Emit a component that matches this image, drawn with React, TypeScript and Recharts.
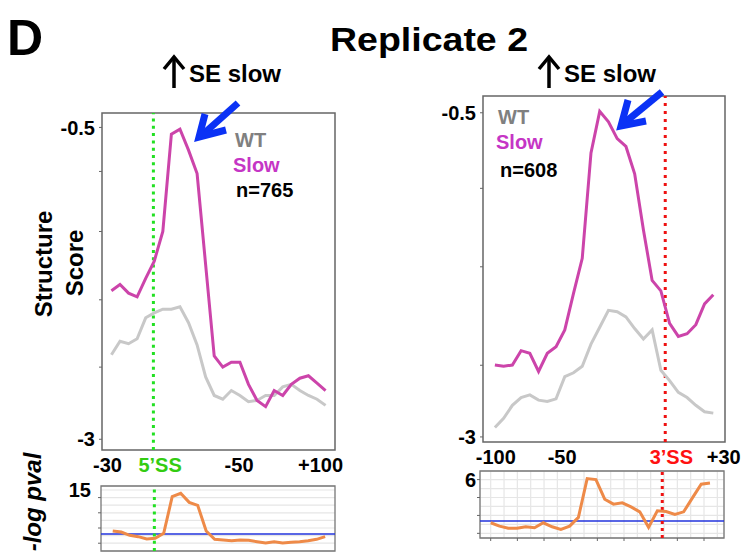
import { CartesianGrid, Line, LineChart, ReferenceArea, ReferenceLine, XAxis, YAxis } from 'recharts';

// 5'SS panel (left)
const leftPos = [-30, -25, -20, -15, -10, -5, 0, 5, 10, 15, 20, 25, 30, 35, 40, 45, 50, 55, 60, 65, 70, 75, 80, 85, 90, 95];
const leftWT = [-2.35, -2.24, -2.26, -2.22, -2.05, -2.01, -1.98, -1.98, -1.96, -2.09, -2.27, -2.53, -2.68, -2.71, -2.64, -2.68, -2.73, -2.72, -2.68, -2.68, -2.61, -2.59, -2.64, -2.68, -2.71, -2.76];
const leftSlow = [-1.83, -1.78, -1.85, -1.88, -1.73, -1.59, -1.35, -0.56, -0.52, -0.69, -0.88, -1.62, -2.36, -2.45, -2.41, -2.41, -2.59, -2.72, -2.77, -2.64, -2.68, -2.59, -2.54, -2.52, -2.58, -2.64];
const leftPval = [4.21, 3.95, 3.07, 2.72, 2.11, 2.28, 3.6, 13.24, 14.12, 11.75, 10.96, 4.21, 2.02, 1.84, 1.66, 1.84, 1.75, 1.4, 1.05, 1.4, 1.05, 1.23, 1.4, 1.66, 2.02, 2.72];

// 3'SS panel (right)
const rightPos = [-100, -95, -90, -85, -80, -75, -70, -65, -60, -55, -50, -45, -40, -35, -30, -25, -20, -15, -10, -5, 0, 5, 10, 15, 20, 25];
const rightWT = [-2.94, -2.87, -2.77, -2.71, -2.69, -2.73, -2.74, -2.72, -2.55, -2.52, -2.47, -2.3, -2.17, -2.04, -2.05, -2.09, -2.18, -2.26, -2.19, -2.5, -2.58, -2.67, -2.71, -2.77, -2.82, -2.83];
const rightSlow = [-2.46, -2.47, -2.46, -2.35, -2.37, -2.51, -2.37, -2.32, -2.19, -1.91, -1.64, -0.83, -0.51, -0.59, -0.72, -0.78, -0.99, -1.42, -1.81, -1.89, -2.14, -2.24, -2.22, -2.15, -1.99, -1.92];
const rightPval = [1.18, 0.81, 0.56, 0.56, 0.73, 0.62, 1.18, 0.73, 0.44, 0.81, 1.78, 6.11, 6.0, 3.81, 3.26, 3.4, 2.96, 2.4, 0.67, 2.51, 2.44, 2.11, 2.4, 3.96, 5.48, 5.62];

// axis ticks and labels
const leftXTicks = [-32.3, -1.6, 44.5, 92.1];
const leftXLabels = ['-30', '5\u2019SS', '-50', '+100'];
const leftXColors = ['#000', '#33cc11', '#000', '#000'];
const rightXTicks = [-99.5, -61.5, 1, 31];
const rightXLabels = ['-100', '-50', '3\u2019SS', '+30'];
const rightXColors = ['#000', '#000', '#ff1111', '#000'];

const leftYTicks = [-0.506, -0.863, -1.35, -1.904, -2.45, -3.035];
const leftYLabels = ['-0.5', '', '', '', '', '-3'];
const rightYTicks = [-0.521, -1.102, -1.705, -2.462, -3.013];
const rightYLabels = ['-0.5', '', '', '', '-3'];

const pvalLTicks = [1, 3, 5, 7, 9, 11, 13, 15];
const pvalLLabels = ['', '', '', '', '', '', '', '15'];
const pvalLMarks = [true, false, true, false, true, false, true, false];
const pvalRTicks = [0, 1, 2, 3, 4, 5, 6];
const pvalRLabels = ['', '', '', '', '', '', '6'];
const pvalRMarks = [true, false, true, false, true, false, true];
const pvalRXGrid = [-100, -92.4, -84.8, -77.2, -69.6, -62, -54.4, -46.8, -39.2, -31.6, -24, -16.4, -8.8, -1.2, 6.4, 14, 21.6, 29.2];

const pvalCutoffL = 3.4;
const pvalCutoffR = 1.37;

const leftData = leftPos.map((p, i) => ({ pos: p, wt: leftWT[i], slow: leftSlow[i], pval: leftPval[i] }));
const rightData = rightPos.map((p, i) => ({ pos: p, wt: rightWT[i], slow: rightSlow[i], pval: rightPval[i] }));

const FONT = '"Liberation Sans", Arial, Helvetica, sans-serif';

const yTick = (values: number[], labels: string[], marks: boolean[] | null, gap: number) => (props: any) => {
  const { x, y, payload } = props;
  const k = values.indexOf(payload.value);
  const mark = marks ? marks[k] : true;
  return (
    <g>
      {mark && <line x1={x - 3} x2={x} y1={y} y2={y} stroke="#666" strokeWidth={1} />}
      {labels[k] ? (
        <text x={x - gap} y={y} dy="0.36em" textAnchor="end" fontFamily={FONT} fontWeight="bold" fontSize={20} fill="#000">
          {labels[k]}
        </text>
      ) : null}
    </g>
  );
};

const xTick = (values: number[], labels: string[], colors: string[]) => (props: any) => {
  const { x, y, payload } = props;
  const k = values.indexOf(payload.value);
  return (
    <text x={x} y={y + 22} textAnchor="middle" fontFamily={FONT} fontWeight="bold" fontSize={20} fill={colors[k]}>
      {labels[k]}
    </text>
  );
};

const gridXTick = (props: any) => {
  const { x, y, index } = props;
  if (index % 2 !== 0) return <g />;
  return <line x1={x} x2={x} y1={y} y2={y + 3} stroke="#666" strokeWidth={1} />;
};

const LEFT_X: [number, number] = [-35.5, 100.5];
const LEFT_Y: [number, number] = [-3.122, -0.389];
const RIGHT_X: [number, number] = [-106.8, 31.7];
const RIGHT_Y: [number, number] = [-3.052, -0.392];
const PL_X: [number, number] = [-36.9, 100.8];
const PL_Y: [number, number] = [-1.05, 16.05];
const PR_X: [number, number] = [-106.1, 33];
const PR_Y: [number, number] = [-0.52, 6.96];

const App = () => {
  return (
    <div style={{ position: 'absolute', left: 0, top: 0, width: 746, height: 554, background: '#fff', overflow: 'hidden' }}>
      {/* left main */}
      <div style={{ position: 'absolute', left: 0, top: 100 }}>
        <LineChart width={350} height={385} data={leftData} margin={{ top: 13, right: 15, bottom: 0, left: 0 }}>
          <XAxis type="number" dataKey="pos" domain={LEFT_X} allowDataOverflow ticks={leftXTicks} interval={0}
            axisLine={false} tickLine={false} tickSize={0} tickMargin={0} height={35}
            tick={xTick(leftXTicks, leftXLabels, leftXColors)} />
          <YAxis type="number" domain={LEFT_Y} allowDataOverflow ticks={leftYTicks} interval={0} width={102}
            axisLine={false} tickLine={false} tickSize={0} tickMargin={0}
            tick={yTick(leftYTicks, leftYLabels, null, 7)} />
          <ReferenceArea x1={LEFT_X[0]} x2={LEFT_X[1]} y1={LEFT_Y[0]} y2={LEFT_Y[1]} fill="none" stroke="#666" strokeWidth={1.5} ifOverflow="visible" />
          <ReferenceLine x={-5.5} stroke="#22e022" strokeWidth={3} strokeDasharray="3 4.3" />
          <Line type="linear" dataKey="wt" stroke="#c8c8c8" strokeWidth={3} dot={false} isAnimationActive={false} />
          <Line type="linear" dataKey="slow" stroke="#cc44aa" strokeWidth={3} dot={false} isAnimationActive={false} />
        </LineChart>
      </div>

      {/* right main */}
      <div style={{ position: 'absolute', left: 430, top: 86 }}>
        <LineChart width={316} height={386} data={rightData} margin={{ top: 10, right: 21, bottom: 0, left: 0 }}>
          <XAxis type="number" dataKey="pos" domain={RIGHT_X} allowDataOverflow ticks={rightXTicks} interval={0}
            axisLine={false} tickLine={false} tickSize={0} tickMargin={0} height={30}
            tick={xTick(rightXTicks, rightXLabels, rightXColors)} />
          <YAxis type="number" domain={RIGHT_Y} allowDataOverflow ticks={rightYTicks} interval={0} width={53}
            axisLine={false} tickLine={false} tickSize={0} tickMargin={0}
            tick={yTick(rightYTicks, rightYLabels, null, 7)} />
          <ReferenceArea x1={RIGHT_X[0]} x2={RIGHT_X[1]} y1={RIGHT_Y[0]} y2={RIGHT_Y[1]} fill="none" stroke="#666" strokeWidth={1.5} ifOverflow="visible" />
          <ReferenceLine x={-2.5} stroke="#ee1111" strokeWidth={3} strokeDasharray="3 5" />
          <Line type="linear" dataKey="wt" stroke="#c8c8c8" strokeWidth={3} dot={false} isAnimationActive={false} />
          <Line type="linear" dataKey="slow" stroke="#cc44aa" strokeWidth={3} dot={false} isAnimationActive={false} />
        </LineChart>
      </div>

      {/* left -log pval */}
      <div style={{ position: 'absolute', left: 0, top: 470 }}>
        <LineChart width={350} height={84} data={leftData} margin={{ top: 16, right: 15, bottom: 3, left: 0 }}>
          <CartesianGrid vertical={false} stroke="#e6e6e6" strokeWidth={1.2} />
          <XAxis type="number" dataKey="pos" domain={PL_X} allowDataOverflow hide />
          <YAxis type="number" domain={PL_Y} allowDataOverflow ticks={pvalLTicks} interval={0} width={101}
            axisLine={false} tickLine={false} tickSize={0} tickMargin={0}
            tick={yTick(pvalLTicks, pvalLLabels, pvalLMarks, 10)} />
          <ReferenceArea x1={PL_X[0]} x2={PL_X[1]} y1={PL_Y[0]} y2={PL_Y[1]} fill="none" stroke="#777" strokeWidth={1.3} ifOverflow="visible" />
          <ReferenceLine y={pvalCutoffL} stroke="#2233dd" strokeWidth={1.5} />
          <ReferenceLine x={-5.5} stroke="#22e022" strokeWidth={3} strokeDasharray="3 4.3" />
          <Line type="linear" dataKey="pval" stroke="#ee8a48" strokeWidth={3} dot={false} isAnimationActive={false} />
        </LineChart>
      </div>

      {/* right -log pval */}
      <div style={{ position: 'absolute', left: 430, top: 460 }}>
        <LineChart width={300} height={94} data={rightData} margin={{ top: 11, right: 6, bottom: 0, left: 0 }}>
          <CartesianGrid stroke="#e6e6e6" strokeWidth={1.2} />
          <XAxis type="number" dataKey="pos" domain={PR_X} allowDataOverflow ticks={pvalRXGrid} interval={0}
            axisLine={false} tickLine={false} tickSize={0} tickMargin={0} height={16} tick={gridXTick} />
          <YAxis type="number" domain={PR_Y} allowDataOverflow ticks={pvalRTicks} interval={0} width={50}
            axisLine={false} tickLine={false} tickSize={0} tickMargin={0}
            tick={yTick(pvalRTicks, pvalRLabels, pvalRMarks, 4)} />
          <ReferenceArea x1={PR_X[0]} x2={PR_X[1]} y1={PR_Y[0]} y2={PR_Y[1]} fill="none" stroke="#777" strokeWidth={1.3} ifOverflow="visible" />
          <ReferenceLine y={pvalCutoffR} stroke="#2233dd" strokeWidth={1.5} />
          <ReferenceLine x={-2.2} stroke="#ee1111" strokeWidth={3} strokeDasharray="3 4" />
          <Line type="linear" dataKey="pval" stroke="#ee8a48" strokeWidth={3} dot={false} isAnimationActive={false} />
        </LineChart>
      </div>

      {/* titles, annotations */}
      <svg width={746} height={554} style={{ position: 'absolute', left: 0, top: 0, pointerEvents: 'none' }} fontFamily={FONT} fontWeight="bold">
        <text x={7} y={55} fontSize={50}>D</text>
        <text x={330} y={51} fontSize={34} textLength={198} lengthAdjust="spacingAndGlyphs">Replicate 2</text>

        <line x1={174} x2={174} y1={88} y2={58} stroke="#000" strokeWidth={3.5} />
        <polyline points="164,69 174,57 184,69" fill="none" stroke="#000" strokeWidth={3.5} />
        <text x={189} y={82} fontSize={24}>SE slow</text>
        <line x1={549} x2={549} y1={88} y2={58} stroke="#000" strokeWidth={3.5} />
        <polyline points="539,69 549,57 559,69" fill="none" stroke="#000" strokeWidth={3.5} />
        <text x={564} y={82} fontSize={24}>SE slow</text>

        <line x1={238} y1={103} x2={201} y2={136} stroke="#0b32f5" strokeWidth={7} />
        <polyline points="205,114 199,137 226,130" fill="none" stroke="#0b32f5" strokeWidth={7} strokeLinejoin="miter" />
        <line x1={662} y1={92} x2={623} y2={124} stroke="#0b32f5" strokeWidth={7} />
        <polyline points="628,100 621,126 646,121" fill="none" stroke="#0b32f5" strokeWidth={7} strokeLinejoin="miter" />

        <text x={235} y={147} fontSize={20} fill="#808080">WT</text>
        <text x={233} y={172} fontSize={20} fill="#c535c5">Slow</text>
        <text x={236} y={197} fontSize={20} fill="#000">n=765</text>
        <text x={498} y={124} fontSize={20} fill="#808080">WT</text>
        <text x={496} y={149} fontSize={20} fill="#c535c5">Slow</text>
        <text x={500} y={177} fontSize={20} fill="#000">n=608</text>

        <text transform="translate(52,264) rotate(-90)" textAnchor="middle" fontSize={24}>Structure</text>
        <text transform="translate(83,263) rotate(-90)" textAnchor="middle" fontSize={24}>Score</text>
        <text transform="translate(41,502) rotate(-90)" textAnchor="middle" fontSize={24} fontStyle="italic">-log pval</text>
      </svg>
    </div>
  );
};

export default App;
